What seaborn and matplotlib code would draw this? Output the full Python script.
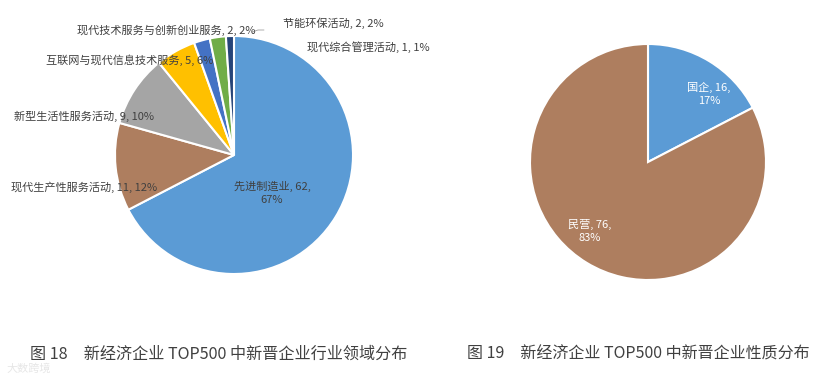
"""
新经济企业 TOP500 中新晋企业：行业领域分布与企业性质分布（两张饼图）
"""

import matplotlib
matplotlib.use("Agg")
import matplotlib.pyplot as plt
import seaborn as sns

# 图 18 行业领域
industry_labels = ["先进制造业", "现代生产性服务活动", "新型生活性服务活动",
                   "互联网与现代信息技术服务", "现代技术服务与创新创业服务",
                   "节能环保活动", "现代综合管理活动"]
industry_counts = [62, 11, 9, 5, 2, 2, 1]
industry_pcts = ["67%", "12%", "10%", "6%", "2%", "2%", "1%"]

# 图 19 企业性质
nature_labels = ["国企", "民营"]
nature_counts = [16, 76]
nature_pcts = ["17%", "83%"]

captions = ["图 18　新经济企业 TOP500 中新晋企业行业领域分布",
            "图 19　新经济企业 TOP500 中新晋企业性质分布"]

W, H = 830, 376
sns.set_theme(style="white")
plt.rcParams["font.family"] = ["Noto Sans CJK SC", "DejaVu Sans"]

colors_ind = ["#5B9BD5", "#AE7E5F", "#A5A5A5", "#FFC000", "#4472C4", "#70AD47", "#264478"]
colors_nat = ["#5B9BD5", "#AE7E5F"]
txt = "#404040"

fig = plt.figure(figsize=(W / 100, H / 100), dpi=100)
ax = fig.add_axes([0, 0, 1, 1])


def py(y):
    # pixel row (from top) -> data y
    return H - y


wp = dict(edgecolor="white", linewidth=1.5)
ax.pie(industry_counts, colors=colors_ind, startangle=90, counterclock=False,
       center=(234, py(155)), radius=119, wedgeprops=wp, frame=True)
ax.pie(nature_counts, colors=colors_nat, startangle=90, counterclock=False,
       center=(648, py(162)), radius=118, wedgeprops=wp, frame=True)
ax.set_xlim(0, W)
ax.set_ylim(0, H)
ax.set_aspect("equal")
ax.axis("off")

# 行业标签位置（像素中心）
ind_pos = [(272, 193), (84, 187), (84, 116), (130, 60), (166, 30), (333, 23), (368, 47)]
for i, (lab, n, p) in enumerate(zip(industry_labels, industry_counts, industry_pcts)):
    x, y = ind_pos[i]
    s = f"{lab}, {n},\n{p}" if i == 0 else f"{lab}, {n}, {p}"
    ax.text(x, py(y), s, ha="center", va="center", fontsize=8, color=txt,
            linespacing=1.3)

# 小扇区引线
ax.plot([252, 258, 264], [py(32), py(30), py(30)], color="#A0A0A0", lw=0.6)

nat_pos = [(709, 94), (590, 231)]
for (x, y), lab, n, p in zip(nat_pos, nature_labels, nature_counts, nature_pcts):
    ax.text(x, py(y), f"{lab}, {n},\n{p}", ha="center", va="center", fontsize=8,
            color="white", linespacing=1.3)

ax.text(30, py(354), captions[0], ha="left", va="center", fontsize=11.6, color=txt)
ax.text(467, py(354), captions[1], ha="left", va="center", fontsize=11.5, color=txt)

# 水印
ax.text(6, py(369), "大数跨境", ha="left", va="center", fontsize=8,
        color="#E4E4E4", alpha=0.9)

fig.savefig("out.png", dpi=100)
